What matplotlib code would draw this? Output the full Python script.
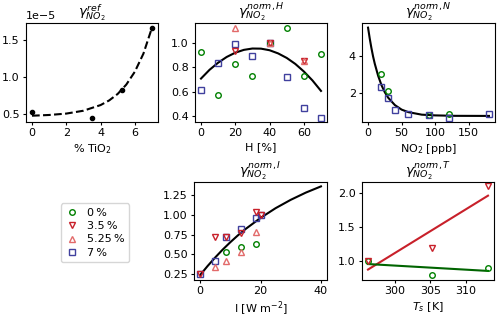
import numpy as np
import matplotlib
matplotlib.use("Agg")
import matplotlib.pyplot as plt
from matplotlib.lines import Line2D

plt.rcParams['font.size'] = 8
plt.rcParams['xtick.major.size'] = 2.5
plt.rcParams['ytick.major.size'] = 2.5
plt.rcParams['xtick.major.pad'] = 2
plt.rcParams['ytick.major.pad'] = 2
plt.rcParams['axes.labelpad'] = 3

# --- data ---
tio2 = [0, 3.5, 5.25, 7]
gamma_ref = [0.518e-5, 0.445e-5, 0.827e-5, 1.659e-5]
tio2_fit = [0, 1, 2, 3, 4, 4.5, 5, 5.5, 6, 6.5, 7]
gamma_ref_fit = [0.47e-5, 0.48e-5, 0.499e-5, 0.538e-5, 0.615e-5, 0.678e-5,
                 0.767e-5, 0.894e-5, 1.07e-5, 1.316e-5, 1.67e-5]

H = [0, 10, 20, 30, 40, 50, 60, 70]
gH_0 = [0.926, 0.575, 0.831, 0.733, 1.0, 1.125, 0.733, 0.91]
gH_7 = [0.613, 0.836, 0.99, 0.894, 1.0, 0.72, 0.468, 0.389]
H_35 = [20, 40, 60]
gH_35 = [0.935, 1.0, 0.85]
H_525 = [20, 40, 60]
gH_525 = [1.125, 1.0, 0.85]
H_fit = [0, 5, 10, 15, 20, 25, 30, 35, 40, 45, 50, 55, 60, 65, 70]
gH_fit = [0.708, 0.78, 0.838, 0.885, 0.92, 0.943, 0.954, 0.953, 0.94, 0.914,
          0.877, 0.828, 0.766, 0.693, 0.607]

N_0 = [20, 30, 90, 120]
gN_0 = [3.0, 2.11, 0.77, 0.81]
N_7 = [20, 30, 40, 60, 90, 120, 180]
gN_7 = [2.31, 1.69, 1.03, 0.78, 0.74, 0.61, 0.78]
N_fit = [0, 2.5, 5, 7.5, 10, 15, 20, 25, 30, 40, 50, 60, 80, 100, 130, 180]
gN_fit = [5.6, 5.0, 4.47, 4.0, 3.6, 2.93, 2.41, 2.01, 1.71, 1.30, 1.05,
          0.91, 0.77, 0.73, 0.705, 0.70]

I_0 = [8.5, 13.4, 18.4]
gI_0 = [0.53, 0.59, 0.63]
I_35 = [0, 4.8, 8.5, 13.4, 18.4, 20]
gI_35 = [0.25, 0.72, 0.726, 0.776, 1.04, 1.0]
I_525 = [4.8, 8.5, 13.4, 18.4]
gI_525 = [0.34, 0.42, 0.53, 0.78]
I_7 = [0, 4.8, 8.5, 13.4, 18.4, 20]
gI_7 = [0.25, 0.417, 0.726, 0.82, 0.96, 1.0]
I_fit = [0, 2.5, 5, 7.5, 10, 12.5, 15, 20, 25, 30, 35, 40]
gI_fit = [0.24, 0.355, 0.462, 0.562, 0.654, 0.74, 0.819, 0.96, 1.083,
          1.188, 1.279, 1.357]

T = [296.15, 305.15, 313.15]
gT_0 = [1.0, 0.794, 0.90]
gT_35 = [1.0, 1.196, 2.096]
T_fit = [296.15, 313.15]
gT_0_fit = [0.957, 0.856]
gT_35_fit = [0.876, 1.96]

c0 = 'green'
c35 = '#c8202a'
c525 = '#e26a6a'
c7 = '#40409e'
ms = 4

sty0 = dict(ls='none', marker='o', mfc='none', mec=c0, ms=ms, mew=1)
sty35 = dict(ls='none', marker='v', mfc='none', mec=c35, ms=ms, mew=1)
sty525 = dict(ls='none', marker='^', mfc='none', mec=c525, ms=ms, mew=1)
sty7 = dict(ls='none', marker='s', mfc='none', mec=c7, ms=ms, mew=1)

fig = plt.figure(figsize=(5, 3.17), dpi=100)

ax1 = fig.add_axes([0.052, 0.615, 0.264, 0.312])
ax2 = fig.add_axes([0.39, 0.615, 0.264, 0.312])
ax3 = fig.add_axes([0.724, 0.615, 0.266, 0.312])
ax4 = fig.add_axes([0.388, 0.118, 0.266, 0.308])
ax5 = fig.add_axes([0.724, 0.118, 0.264, 0.308])

# reference gamma vs TiO2
ax1.plot(tio2_fit, gamma_ref_fit, 'k--', lw=1.5)
ax1.plot(tio2, gamma_ref, 'ko', ms=3)
ax1.set_xticks([0, 2, 4, 6])
ax1.set_yticks([0.5e-5, 1.0e-5, 1.5e-5])
ax1.set_xlabel('% TiO$_2$')
ax1.set_title(r'$\gamma^{ref}_{NO_2}$', pad=3)

# humidity
ax2.plot(H_fit, gH_fit, 'k-', lw=1.5)
ax2.plot(H, gH_7, **sty7)
ax2.plot(H, gH_0, **sty0)
ax2.plot(H_35, gH_35, **sty35)
ax2.plot(H_525, gH_525, **sty525)
ax2.set_xticks([0, 20, 40, 60])
ax2.set_yticks([0.4, 0.6, 0.8, 1.0])
ax2.set_xlabel('H [%]')
ax2.set_title(r'$\gamma^{norm,H}_{NO_2}$', pad=3)

# NO2
ax3.plot(N_fit, gN_fit, 'k-', lw=1.5)
ax3.plot(N_0, gN_0, **sty0)
ax3.plot(N_7, gN_7, **sty7)
ax3.set_xticks([0, 50, 100, 150])
ax3.set_yticks([2, 4])
ax3.set_xlabel('NO$_2$ [ppb]')
ax3.set_title(r'$\gamma^{norm,N}_{NO_2}$', pad=3)

# irradiance
ax4.plot(I_fit, gI_fit, 'k-', lw=1.5)
ax4.plot(I_7, gI_7, **sty7)
ax4.plot(I_0, gI_0, **sty0)
ax4.plot(I_35, gI_35, **sty35)
ax4.plot(I_525, gI_525, **sty525)
ax4.set_xticks([0, 20, 40])
ax4.set_yticks([0.25, 0.5, 0.75, 1.0, 1.25])
ax4.set_xlabel('I [W m$^{-2}$]')
ax4.set_title(r'$\gamma^{norm,I}_{NO_2}$', pad=3)

# temperature
ax5.plot(T_fit, gT_35_fit, '-', color=c35, lw=1.5)
ax5.plot(T_fit, gT_0_fit, '-', color='darkgreen', lw=1.5)
ax5.plot(T, gT_0, **sty0)
ax5.plot(T, gT_35, **sty35)
ax5.set_xticks([300, 305, 310])
ax5.set_yticks([1.0, 1.5, 2.0])
ax5.set_xlabel('$T_s$ [K]')
ax5.set_title(r'$\gamma^{norm,T}_{NO_2}$', pad=3)

handles = [Line2D([], [], **sty0), Line2D([], [], **sty35),
           Line2D([], [], **sty525), Line2D([], [], **sty7)]
labels = ['0\u2009%', '3.5\u2009%', '5.25\u2009%', '7\u2009%']
fig.legend(handles, labels, loc='upper left', bbox_to_anchor=(0.11, 0.376),
           fontsize=8, handlelength=1.2, labelspacing=0.3)

fig.savefig('out.png', dpi=100)
